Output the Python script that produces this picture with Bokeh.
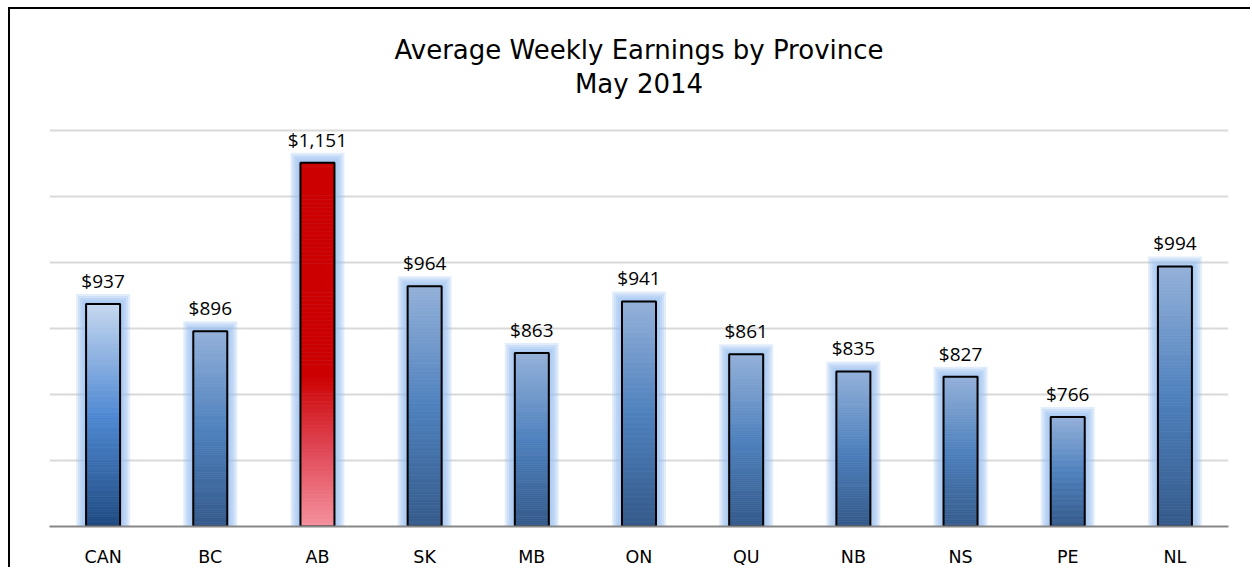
from bokeh.plotting import figure
from bokeh.models import FactorRange, FixedTicker, Grid, ColumnDataSource, Title
from bokeh.embed import file_html
from bokeh.resources import INLINE
from bokeh.core.properties import value

# ---------------- data ----------------
provinces = ["CAN", "BC", "AB", "SK", "MB", "ON", "QU", "NB", "NS", "PE", "NL"]
earnings = [937, 896, 1151, 964, 863, 941, 861, 835, 827, 766, 994]
y_min, y_max = 600, 1243.9
grid_values = [700, 800, 900, 1000, 1100, 1200]
title_line1 = "Average Weekly Earnings by Province"
title_line2 = "May 2014"
value_labels = ["${:,}".format(v) for v in earnings]

# gradient styles (fraction from top, colour)
grad_can = [(0.0, "#c6d8ef"), (0.5, "#5089d3"), (1.0, "#1f4a80")]
grad_blue = [(0.0, "#94b1d9"), (0.5, "#4f81bd"), (1.0, "#355a8a")]
grad_red = [(0.0, "#cc0000"), (0.58, "#cc0000"), (0.78, "#e04452"), (1.0, "#f6929e")]
bar_style = {"CAN": grad_can, "AB": grad_red}

PX_PER_CAT = 1179 / len(provinces)
PX_PER_UNIT = 0.66
BAR_W = 34 / PX_PER_CAT


def hex2rgb(h):
    h = h.lstrip("#")
    return tuple(int(h[i:i + 2], 16) for i in (0, 2, 4))


def interp(stops, f):
    for (f0, c0), (f1, c1) in zip(stops[:-1], stops[1:]):
        if f0 <= f <= f1:
            t = 0 if f1 == f0 else (f - f0) / (f1 - f0)
            a, b = hex2rgb(c0), hex2rgb(c1)
            return "#%02x%02x%02x" % tuple(round(a[k] + (b[k] - a[k]) * t) for k in range(3))
    return stops[-1][1]


p = figure(x_range=FactorRange(factors=provinces), y_range=(y_min, y_max),
           width=1242, height=560, output_backend="svg", toolbar_location=None,
           y_axis_location=None, min_border_left=39, min_border_right=24,
           min_border_top=92, min_border_bottom=43)
p.styles = {"margin-left": "8px", "margin-top": "7px",
            "border-left": "2px solid #000000", "border-top": "2px solid #000000"}
p.outline_line_color = None
p.background_fill_color = "white"
p.border_fill_color = "white"

for g in p.grid:
    g.visible = False
p.add_layout(Grid(dimension=1, ticker=FixedTicker(ticks=grid_values),
                  grid_line_color="#d9d9d9", grid_line_width=2))

# glow
for ext in [10, 8, 6, 4, 2]:
    p.vbar(x=provinces, bottom=y_min,
           top=[v + ext / PX_PER_UNIT for v in earnings],
           width=BAR_W + 2 * ext / PX_PER_CAT,
           fill_color="#96c0f2", fill_alpha=0.28, line_color=None)

# gradient bars
N = 90
xs, bots, tops, cols = [], [], [], []
for prov, v in zip(provinces, earnings):
    stops = bar_style.get(prov, grad_blue)
    for j in range(N):
        b = y_min + (v - y_min) * j / N
        t = y_min + (v - y_min) * (j + 1) / N
        f = 1 - (j + 0.5) / N
        xs.append(prov)
        bots.append(b)
        tops.append(t)
        cols.append(interp(stops, f))
src = ColumnDataSource(dict(x=xs, bottom=bots, top=tops, color=cols))
p.vbar(x="x", bottom="bottom", top="top", width=BAR_W, fill_color="color",
       line_color="color", line_width=0.6, source=src)

# outline
p.vbar(x=provinces, bottom=y_min, top=earnings, width=BAR_W,
       fill_color=None, line_color="#000000", line_width=2)

# value labels
p.text(x=provinces, y=earnings, text=value_labels, text_align="center",
       text_baseline="alphabetic", y_offset=-23,
       text_font=value("Open Sans"), text_font_size="19px", text_color="#000000")

# titles: line 2 is nearest the plot, the figure title sits above it
t2 = Title(text=title_line2, align="center", text_font="DejaVu Sans",
           text_font_size="26px", text_font_style="normal", text_color="#000000",
           standoff=5)
p.add_layout(t2, "above")
p.title.text = title_line1
p.title.align = "center"
p.title.text_font = "DejaVu Sans"
p.title.text_font_size = "26px"
p.title.text_font_style = "normal"
p.title.text_color = "#000000"
p.title.standoff = 0

# x axis
ax = p.xaxis[0]
ax.axis_line_color = "#878787"
ax.axis_line_width = 2
ax.major_tick_line_color = None
ax.minor_tick_line_color = None
ax.major_label_standoff = 14
ax.major_label_text_font = "DejaVu Sans"
ax.major_label_text_font_size = "17.5px"
ax.major_label_text_color = "#000000"

open("out.html", "w").write(file_html(p, INLINE))
